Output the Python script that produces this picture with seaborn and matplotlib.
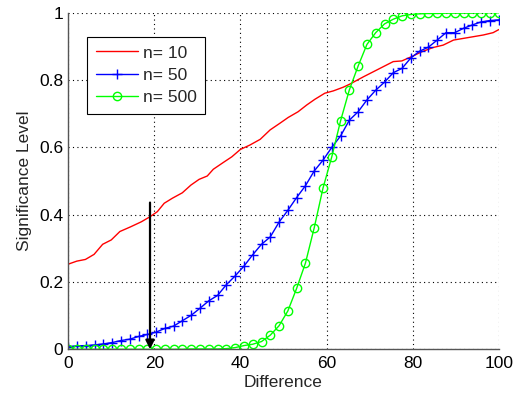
import numpy as np
import pandas as pd
import matplotlib
matplotlib.use("Agg")
import matplotlib.pyplot as plt
import seaborn as sns

# ---- data ----
x_grid = np.linspace(0, 100, 50)

n50_vals = [0.008, 0.010, 0.011, 0.013, 0.016, 0.020, 0.026, 0.030, 0.038, 0.044,
            0.051, 0.062, 0.069, 0.085, 0.101, 0.122, 0.144, 0.160, 0.192, 0.218,
            0.247, 0.281, 0.312, 0.334, 0.378, 0.413, 0.451, 0.486, 0.530, 0.562,
            0.600, 0.634, 0.681, 0.706, 0.741, 0.770, 0.794, 0.822, 0.835, 0.866,
            0.886, 0.898, 0.919, 0.941, 0.941, 0.954, 0.964, 0.973, 0.977, 0.979]

n500_vals = [0.0, 0.0, 0.0, 0.0, 0.0, 0.0, 0.0, 0.0, 0.0, 0.0,
             0.0, 0.0, 0.0, 0.0, 0.001, 0.001, 0.001, 0.001, 0.002, 0.005,
             0.011, 0.015, 0.023, 0.042, 0.070, 0.114, 0.181, 0.256, 0.361, 0.479,
             0.572, 0.679, 0.771, 0.842, 0.906, 0.941, 0.967, 0.981, 0.991, 0.995,
             0.997, 0.998, 0.998, 0.999, 0.999, 0.999, 0.999, 1.0, 1.0, 1.0]

n10_x = [0, 2, 4, 6, 8, 10, 12, 14.5, 17, 19, 20.7, 22.3, 24.2, 26.5, 28.5, 30.4,
         32.3, 33.7, 36, 38, 40, 42.2, 44.6, 46.9, 49.2, 51.1, 53.4, 55.4, 57.3,
         59.6, 61.6, 63.9, 65.4, 68.6, 70.9, 73.2, 75.5, 77.5, 79.8, 82.1, 84.8,
         87.1, 89.5, 91.8, 94.1, 96.4, 98.7, 100]
n10_vals = [0.253, 0.262, 0.267, 0.282, 0.312, 0.325, 0.350, 0.364, 0.379, 0.394,
            0.409, 0.434, 0.449, 0.465, 0.488, 0.505, 0.515, 0.535, 0.555, 0.572,
            0.594, 0.607, 0.624, 0.652, 0.672, 0.689, 0.706, 0.726, 0.743, 0.761,
            0.768, 0.779, 0.788, 0.810, 0.825, 0.840, 0.855, 0.857, 0.870, 0.884,
            0.897, 0.904, 0.919, 0.924, 0.929, 0.934, 0.941, 0.950]

arrow_x = 19
arrow_top = 0.436

x_ticks = [0, 20, 40, 60, 80, 100]
y_ticks = [0, 0.2, 0.4, 0.6, 0.8, 1]
y_tick_labels = ["0", "0.2", "0.4", "0.6", "0.8", "1"]

# ---- plotting ----
sns.set_style("white")
plt.rcParams['font.family'] = ['Liberation Sans', 'DejaVu Sans']
FS = 12.5

fig = plt.figure(figsize=(5.16, 3.99), dpi=100)
ax = fig.add_axes([0.1322, 0.1246, 0.8343, 0.8433])

sns.lineplot(x=n10_x, y=n10_vals, ax=ax, color="#ff0000", lw=1.0,
             label="n= 10", sort=False, estimator=None)
sns.lineplot(x=x_grid, y=n50_vals, ax=ax, color="#0000ff", lw=1.0,
             marker="+", markersize=6.5, markeredgewidth=1.0,
             markeredgecolor="#0000ff",
             label="n= 50", sort=False, estimator=None)
sns.lineplot(x=x_grid, y=n500_vals, ax=ax, color="#00ff00", lw=1.0,
             marker="o", markersize=6, markerfacecolor="none",
             markeredgecolor="#00ff00", markeredgewidth=1.0,
             label="n= 500", sort=False, estimator=None)

ax.annotate("", xy=(arrow_x, 0), xytext=(arrow_x, arrow_top),
            arrowprops=dict(arrowstyle="-|>", color="k", lw=1.6,
                            mutation_scale=13, shrinkA=0, shrinkB=0))

ax.set_xlim(0, 100)
ax.set_ylim(0, 1)
ax.set_xticks(x_ticks)
ax.set_xticklabels([str(t) for t in x_ticks])
ax.set_yticks(y_ticks)
ax.set_yticklabels(y_tick_labels)
ax.tick_params(direction="in", length=3, width=0.8, colors="k",
               labelsize=FS)
ax.tick_params(axis="x", pad=5)
ax.tick_params(axis="y", pad=3.5)
ax.grid(True, color="k", linestyle=(0, (1, 3)), linewidth=0.8)

for side in ["top", "right"]:
    ax.spines[side].set_visible(False)
for side in ["left", "bottom"]:
    ax.spines[side].set_color("#555555")
    ax.spines[side].set_linewidth(1.0)

ax.set_xlabel("Difference", fontsize=FS, labelpad=3)
ax.set_ylabel("Significance Level", fontsize=FS, labelpad=5)

leg = ax.legend(loc="upper left", bbox_to_anchor=(0.0444, 0.929), fontsize=FS,
                frameon=True, fancybox=False, framealpha=1,
                edgecolor="k", handlelength=2.4, borderpad=0.5,
                labelspacing=0.42, handletextpad=0.3, borderaxespad=0)
leg.get_frame().set_linewidth(0.8)

fig.savefig("out.png", dpi=100)
